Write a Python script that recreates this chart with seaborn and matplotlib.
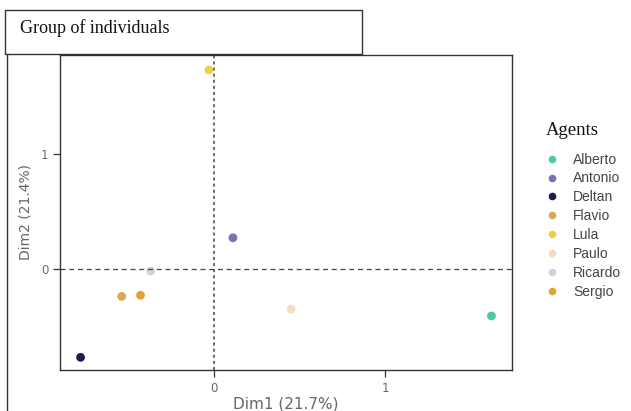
import pandas as pd
import matplotlib.pyplot as plt
import seaborn as sns
from matplotlib.patches import Rectangle
from matplotlib.lines import Line2D

# Individual coordinates on the first two dimensions
agents = ["Alberto", "Antonio", "Deltan", "Flavio", "Lula", "Paulo", "Ricardo", "Sergio"]
dim1 = [1.62, 0.11, -0.78, -0.54, -0.03, 0.45, -0.37, -0.43]
dim2 = [-0.41, 0.27, -0.77, -0.24, 1.73, -0.35, -0.02, -0.23]
colors = ["#4fc9a2", "#7b72b6", "#1b1e4e", "#d5aa52", "#efd043", "#f1dcc4", "#d9cde0", "#e0a233"]

df = pd.DataFrame({"agent": agents, "Dim1": dim1, "Dim2": dim2})
palette = dict(zip(agents, colors))

sns.set_style("white")
fig = plt.figure(figsize=(6.31, 4.11), dpi=100)
ax = fig.add_axes([0.0951, 0.0998, 0.7163, 0.7664])

sns.scatterplot(data=df, x="Dim1", y="Dim2", hue="agent", palette=palette,
                s=40, linewidth=0, ax=ax, legend=False)

ax.axhline(0, color="#444444", linestyle=(0, (4, 3)), linewidth=0.9)
ax.axvline(0, color="#444444", linestyle=(0, (2, 2)), linewidth=1.1)

ax.set_xlim(-0.90, 1.74)
ax.set_ylim(-0.88, 1.86)
ax.set_xticks([0, 1])
ax.set_yticks([0, 1])
ax.tick_params(axis="both", length=5, width=0.9, color="#333333",
               labelcolor="#666666", labelsize=8.5, bottom=True, left=True)
ax.set_xlabel("Dim1 (21.7%)", fontsize=11, color="#666666", labelpad=1)
ax.set_ylabel("Dim2 (21.4%)", fontsize=10, color="#666666", labelpad=6)
for sp in ax.spines.values():
    sp.set_color("#333333")
    sp.set_linewidth(1.0)

# legend (title drawn separately so it sits left-aligned like the original)
handles = [Line2D([0], [0], marker="o", linestyle="", markersize=5.5,
                  markerfacecolor=palette[a], markeredgewidth=0) for a in agents]
leg = ax.legend(handles, agents, loc="upper left",
                bbox_to_anchor=(1.0465, 0.730), frameon=False, fontsize=10,
                labelspacing=0.35, handletextpad=1.0, handlelength=1.0)
for t in leg.get_texts():
    t.set_color("#444444")
    t.set_fontfamily("Liberation Sans")
fig.text(546 / 631, 1 - 130 / 411, "Agents", fontsize=13.5, family="Liberation Serif",
         va="center", ha="left", color="#111111")

# title box and left border
fig.patches.append(Rectangle((0.0079, 0.8686), 0.566, 0.107, transform=fig.transFigure,
                             fill=False, edgecolor="#333333", linewidth=1.0))
fig.lines.append(Line2D([0.0111, 0.0111], [0.0, 0.8686], transform=fig.transFigure,
                        color="#333333", linewidth=1.0))
fig.text(0.032, 0.932, "Group of individuals", fontsize=13, family="Liberation Serif",
         va="center", ha="left", color="#111111")

fig.savefig("out.png", dpi=100)
